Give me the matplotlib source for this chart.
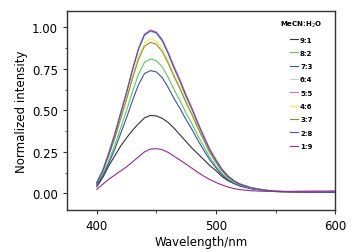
import matplotlib
matplotlib.use("Agg")
import matplotlib.pyplot as plt
from matplotlib.ticker import MultipleLocator

# wavelength grid (nm)
wl = [400, 405, 410, 415, 420, 425, 430, 435, 440, 445, 450, 455, 460, 465, 470,
      475, 480, 485, 490, 495, 500, 505, 510, 515, 520, 530, 540, 550, 560, 570,
      580, 590, 600]

r91 = [0.040, 0.095, 0.165, 0.225, 0.285, 0.335, 0.380, 0.420, 0.455, 0.470, 0.467,
       0.452, 0.427, 0.392, 0.352, 0.312, 0.272, 0.237, 0.202, 0.167, 0.137, 0.102,
       0.077, 0.060, 0.047, 0.030, 0.020, 0.014, 0.011, 0.010, 0.010, 0.010, 0.010]
r82 = [0.055, 0.115, 0.195, 0.288, 0.393, 0.500, 0.614, 0.718, 0.790, 0.810, 0.800,
       0.762, 0.698, 0.624, 0.556, 0.483, 0.418, 0.345, 0.280, 0.216, 0.166, 0.120,
       0.087, 0.064, 0.047, 0.028, 0.018, 0.011, 0.008, 0.006, 0.006, 0.006, 0.006]
r73 = [0.050, 0.104, 0.180, 0.264, 0.360, 0.456, 0.560, 0.655, 0.722, 0.740, 0.732,
       0.697, 0.637, 0.570, 0.510, 0.444, 0.384, 0.318, 0.258, 0.200, 0.154, 0.112,
       0.081, 0.060, 0.044, 0.027, 0.017, 0.011, 0.008, 0.006, 0.006, 0.006, 0.006]
r64 = [0.064, 0.137, 0.239, 0.351, 0.478, 0.605, 0.741, 0.865, 0.950, 0.975, 0.963,
       0.916, 0.838, 0.750, 0.670, 0.582, 0.503, 0.415, 0.336, 0.258, 0.198, 0.143,
       0.103, 0.076, 0.056, 0.033, 0.020, 0.013, 0.009, 0.007, 0.006, 0.006, 0.006]
r55 = [0.068, 0.142, 0.245, 0.358, 0.486, 0.613, 0.750, 0.875, 0.961, 0.985, 0.974,
       0.927, 0.851, 0.763, 0.683, 0.594, 0.514, 0.425, 0.345, 0.266, 0.205, 0.149,
       0.107, 0.079, 0.058, 0.035, 0.021, 0.013, 0.009, 0.008, 0.008, 0.008, 0.008]
r46 = [0.070, 0.138, 0.234, 0.340, 0.460, 0.580, 0.710, 0.826, 0.906, 0.930, 0.919,
       0.874, 0.801, 0.718, 0.643, 0.558, 0.483, 0.399, 0.324, 0.249, 0.192, 0.139,
       0.100, 0.074, 0.054, 0.032, 0.020, 0.012, 0.009, 0.007, 0.006, 0.006, 0.006]
r37 = [0.066, 0.132, 0.226, 0.330, 0.448, 0.566, 0.694, 0.808, 0.887, 0.910, 0.899,
       0.855, 0.783, 0.702, 0.628, 0.546, 0.472, 0.390, 0.317, 0.243, 0.187, 0.135,
       0.097, 0.072, 0.053, 0.032, 0.020, 0.012, 0.009, 0.007, 0.006, 0.006, 0.006]
r28 = [0.062, 0.136, 0.238, 0.352, 0.480, 0.607, 0.745, 0.869, 0.955, 0.980, 0.968,
       0.920, 0.842, 0.754, 0.673, 0.585, 0.506, 0.417, 0.337, 0.259, 0.199, 0.144,
       0.104, 0.076, 0.056, 0.033, 0.021, 0.013, 0.009, 0.007, 0.006, 0.006, 0.006]
r19 = [0.024, 0.055, 0.085, 0.110, 0.135, 0.160, 0.190, 0.220, 0.250, 0.267, 0.270,
       0.263, 0.247, 0.223, 0.200, 0.176, 0.151, 0.126, 0.103, 0.083, 0.066, 0.051,
       0.039, 0.029, 0.023, 0.016, 0.013, 0.012, 0.012, 0.013, 0.014, 0.014, 0.015]

labels = ["9:1", "8:2", "7:3", "6:4", "5:5", "4:6", "3:7", "2:8", "1:9"]
series = [r91, r82, r73, r64, r55, r46, r37, r28, r19]
colors = ["#333333", "#5cc85c", "#3a50b4", "#a8dcdc", "#d070c0",
          "#f0ee50", "#8c8c34", "#5050b4", "#96289a"]

fig = plt.figure(figsize=(3.6, 2.53), dpi=100)
ax = fig.add_axes([0.186, 0.166, 0.745, 0.787])

for y, lab, c in zip(series, labels, colors):
    ax.plot(wl, y, color=c, lw=0.8, label=lab)

ax.set_xlim(375, 600)
ax.set_ylim(-0.1, 1.1)
ax.set_xticks([400, 500, 600])
ax.xaxis.set_minor_locator(MultipleLocator(50))
ax.set_yticks([0.0, 0.25, 0.5, 0.75, 1.0])
ax.yaxis.set_minor_locator(MultipleLocator(0.125))
ax.tick_params(which="major", direction="out", length=3, width=0.8,
               labelsize=8.5, colors="#333333", labelcolor="black")
ax.tick_params(which="minor", direction="out", length=1.8, width=0.6, colors="#333333")
for sp in ax.spines.values():
    sp.set_color("#333333")
    sp.set_linewidth(1.0)

ax.set_xlabel("Wavelength/nm", fontsize=8.5, labelpad=2)
ax.set_ylabel("Normalized intensity", fontsize=8.5, labelpad=3)

leg = ax.legend(title="MeCN:H$_2$O", loc="upper right", frameon=False,
                prop={"size": 5, "weight": "bold"}, handlelength=1.2,
                handletextpad=0.3, labelspacing=1.05,
                bbox_to_anchor=(0.975, 0.99))
leg.get_title().set_fontsize(5)
leg.get_title().set_fontweight("bold")

fig.savefig("out.png", dpi=100)
